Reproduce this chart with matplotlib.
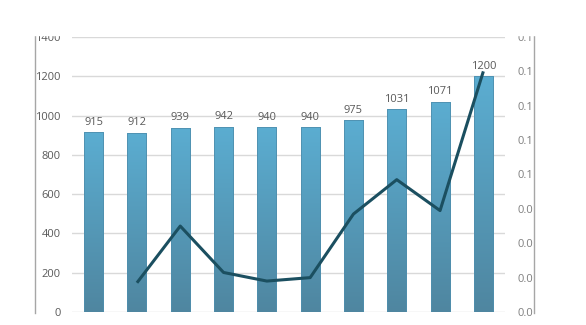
import matplotlib.pyplot as plt
import numpy as np
from matplotlib.colors import LinearSegmentedColormap
from matplotlib.lines import Line2D
from matplotlib.patches import Rectangle

# data
values = [915, 912, 939, 942, 940, 940, 975, 1031, 1071, 1200]
growth = [np.nan, -0.003, 0.030, 0.003, -0.002, 0.0, 0.037, 0.057, 0.039, 0.120]
left_ticks = [0, 200, 400, 600, 800, 1000, 1200, 1400]
right_ticks = [-0.02, 0.0, 0.02, 0.04, 0.06, 0.08, 0.10, 0.12, 0.14]
right_labels = ['0.0', '0.0', '0.0', '0.0', '0.1', '0.1', '0.1', '0.1', '0.1']

plt.rcParams['font.family'] = ['Open Sans', 'DejaVu Sans']
text_color = '#595959'

fig = plt.figure(figsize=(5.86, 3.25), dpi=100)
ax = fig.add_axes([72 / 586, 13 / 325, 433 / 586, 275 / 325])
x = np.arange(len(values))

bars = ax.bar(x, values, width=0.44, color='none', edgecolor='#4f8fae', linewidth=0.6, zorder=3)
cmap = LinearSegmentedColormap.from_list('bar', ['#4f86a0', '#5badd1'])
grad = np.linspace(0, 1, 256).reshape(-1, 1)
for b in bars:
    im = ax.imshow(grad, cmap=cmap, origin='lower', aspect='auto', zorder=2,
                   extent=[b.get_x(), b.get_x() + b.get_width(), 0, b.get_height()])
    im.set_clip_path(b)
for xi, v in zip(x, values):
    ax.text(xi, v + 24, str(v), ha='center', va='bottom', fontsize=8, color=text_color)

ax.set_xlim(-0.5, len(values) - 0.5)
ax.set_ylim(0, 1400)
ax.set_yticks(left_ticks)
ax.set_xticks([])
ax.grid(axis='y', color='#d9d9d9', linewidth=1)
ax.set_axisbelow(True)
ax.tick_params(axis='y', length=0, pad=8, labelsize=8, labelcolor=text_color)
for s in ax.spines.values():
    s.set_visible(False)

ax2 = ax.twinx()
ax2.plot(x, growth, color='#1b4f60', linewidth=2.2, zorder=5, solid_capstyle='butt')
ax2.set_ylim(-0.02, 0.14)
ax2.set_yticks(right_ticks)
ax2.set_yticklabels(right_labels)
ax2.tick_params(axis='y', length=0, pad=9, labelsize=8, labelcolor='#7f7f7f')
for s in ax2.spines.values():
    s.set_visible(False)

# outer vertical axis lines
fig.add_artist(Line2D([35 / 586, 35 / 586], [12 / 325, 292 / 325], color='#a6a6a6', linewidth=1))
fig.add_artist(Line2D([534 / 586, 534 / 586], [12 / 325, 292 / 325], color='#a6a6a6', linewidth=1))
# top of the source is cut off
fig.add_artist(Rectangle((0, 290 / 325), 1, 1, color='white', zorder=10))

fig.savefig('out.png', dpi=100, facecolor='white')
